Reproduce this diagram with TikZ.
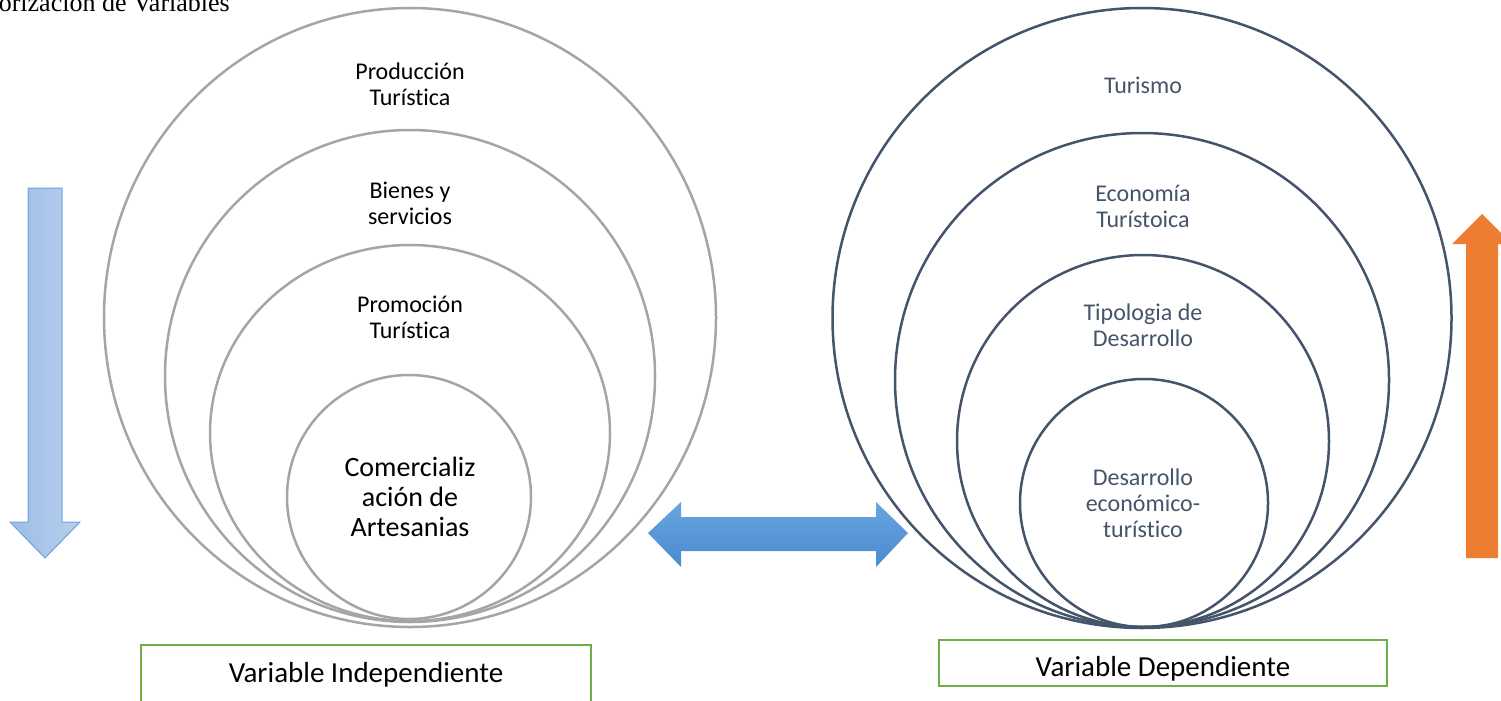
\documentclass[tikz,border=0pt]{standalone}
\usepackage{fontspec}
\setmainfont{Carlito}[Ligatures=CommonOff]
\newfontfamily\ttlfont{Liberation Serif}
\usetikzlibrary{shapes.geometric}
\definecolor{ringgray}{HTML}{A5A5A5}
\definecolor{ringslate}{HTML}{44546A}
\definecolor{boxgreen}{HTML}{70AD47}
\definecolor{arrblue}{HTML}{5B9BD5}
\definecolor{arrorange}{HTML}{ED7D31}

\begin{document}
\begin{tikzpicture}[x=1pt, y=-1pt,
    ringL/.style={ellipse, draw=ringgray, line width=2.5pt, inner sep=0pt},
    ringR/.style={ellipse, draw=ringslate, line width=2.5pt, inner sep=0pt},
    lblL/.style={align=center, font=\fontsize{24}{26}\selectfont},
    lblR/.style={align=center, text=ringslate, font=\fontsize{24}{26}\selectfont},
    varbox/.style={draw=boxgreen, line width=2.5pt, inner sep=0pt, font=\fontsize{29}{32}\selectfont}]
  \useasboundingbox (0,0) rectangle (1501,701);

  \node[anchor=base east, inner sep=0pt, font=\ttlfont\fontsize{26}{28}\selectfont] (ttl) at (230,12) {orización de Variables};

  % independiente
  \node[ringL, minimum width=612pt, minimum height=619pt] (prodRing) at (410,317.5) {};
  \node[ringL, minimum width=490pt, minimum height=492pt] (bienRing) at (410,376) {};
  \node[ringL, minimum width=400pt, minimum height=376pt] (promRing) at (410,433) {};
  \node[ringL, minimum width=244pt, minimum height=244pt] (comRing) at (409,497) {};
  \node[lblL] (prod) at (410,84) {Producción\\Turística};
  \node[lblL] (bien) at (410,203) {Bienes y\\servicios};
  \node[lblL] (prom) at (410,317) {Promoción\\Turística};
  \node[lblL, font=\fontsize{28}{30}\selectfont] (com) at (410,497) {Comercializ\\ación de\\Artesanias};

  % dependiente
  \node[ringR, minimum width=619pt, minimum height=620pt] (turRing) at (1142,318) {};
  \node[ringR, minimum width=494pt, minimum height=494pt] (ecoRing) at (1142,380) {};
  \node[ringR, minimum width=372pt, minimum height=372pt] (tipRing) at (1143,441) {};
  \node[ringR, minimum width=248pt, minimum height=248pt] (desRing) at (1144,503) {};
  \node[lblR] (tur) at (1143,85) {Turismo};
  \node[lblR] (eco) at (1143,206) {Economía\\Turístoica};
  \node[lblR] (tip) at (1143,325) {Tipologia de\\Desarrollo};
  \node[lblR] (des) at (1143,503) {Desarrollo\\económico-\\turístico};

  \node[varbox, minimum width=450pt, minimum height=60pt] (indep) at (366,675) {Variable Independiente};
  \node[varbox, minimum width=448pt, minimum height=46pt, text height=26pt, text depth=0pt] (dep) at (1163,663) {Variable Dependiente};

  % flechas
  \path[left color={rgb,255:red,157;green,189;blue,230}, right color={rgb,255:red,183;green,207;blue,236},
        draw={rgb,255:red,111;green,163;blue,220}, line width=1pt]
    (28,188) -- (62,188) -- (62,522) -- (80,522) -- (45,558) -- (10,522) -- (28,522) -- cycle;
  \path[top color={rgb,255:red,103;green,165;blue,223}, bottom color={rgb,255:red,74;green,139;blue,208}]
    (648,533) -- (681,502) -- (681,517) -- (876,517) -- (876,502) -- (908,533)
    -- (876,567) -- (876,551) -- (681,551) -- (681,567) -- cycle;
  \fill[arrorange] (1466,558) -- (1466,244) -- (1452,244) -- (1482,214) -- (1512,244)
    -- (1498,244) -- (1498,558) -- cycle;
\end{tikzpicture}
\end{document}
